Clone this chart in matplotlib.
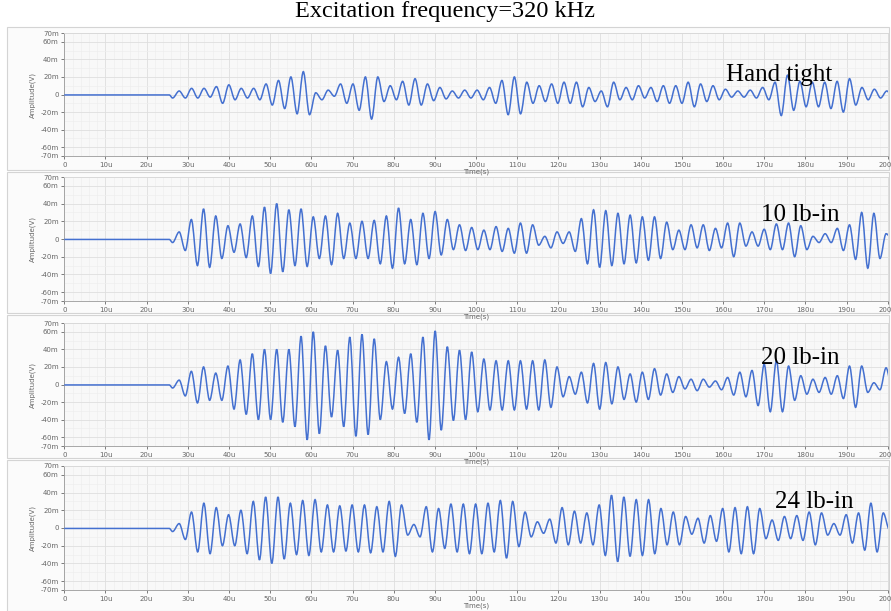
import matplotlib.pyplot as plt
from matplotlib.patches import Rectangle, PathPatch
from matplotlib.path import Path
from matplotlib.ticker import MultipleLocator

# peak / trough amplitudes (mV) read cycle by cycle from each trace
labels = ["Hand tight", "10 lb-in", "20 lb-in", "24 lb-in"]
start_us = [27.9, 27.9, 27.9, 27.9]
period_us = [3.015, 2.96, 2.96, 3.0]

peaks_hand = [4, 7, 7, 9, 11, 7, 7, 12, 16, 20,
              26, 2, 5, 12, 12, 20, 20, 10, 15, 18, 12, 8, 4, 5, 5, 8, 16, 20, 14, 10, 12, 14, 14, 8, 4,
              14, 8, 10, 8, 10, 10, 14, 12, 10, 6, 4, 5, 8, 14, 22, 15, 14, 14, 15, 18, 8, 6, 4]
troughs_hand = [-4, -4, -3, -10, -6, -4, -6, -12, -16, -22,
                -23, -6, -2, -10, -18, -28, -8, -6, -12, -12, -7, -5, -4, -4, -6, -10, -23, -22, -10, -8,
                -10, -10, -14, -8, -14,
                -6, -6, -4, -8, -10, -10, -14, -8, -6, -3, -3, -4, -6, -24, -18, -14, -14, -16, -20, -12,
                -6, -4, -3]

peaks_10 = [8, 22, 34, 26, 15, 17, 26, 36, 40, 33,
            34, 25, 26, 29, 18, 20, 21, 26, 35, 22,
            29, 31, 22, 16, 13, 10, 14, 12, 18, 16,
            3, 8, 8, 23, 33,
            32, 29, 27, 25, 25, 19, 10, 16, 16, 12,
            18, 18, 8, 11, 17, 18, 15, 3, 6, 12,
            16, 30, 29, 6]
troughs_10 = [-13, -30, -32, -22, -15, -21, -31, -39, -37, -30,
              -31, -22, -29, -22, -22, -22, -28, -33, -28, -29,
              -22, -18, -12, -13, -12, -12, -14, -16, -16, -7,
              -10, -5, -14, -28,
              -32, -30, -28, -27, -24, -22, -12, -12, -10, -13,
              -10, -20, -8, -8, -12, -12, -20, -12, -4, -4,
              -13, -23, -33, -22, 0]

peaks_20 = [5, 15, 20, 13, 21, 28, 35, 40, 40, 40,
            55, 60, 44, 39, 54, 57, 52, 26, 31, 35,
            54, 61, 43, 39, 37, 29, 27, 27, 27, 27,
            28, 20, 9, 14, 24,
            25, 20, 12, 14, 18, 12, 9, 6, 6, 4,
            8, 14, 16, 23, 27, 21, 10, 6, 8, 10,
            21, 21, 2, 19]
troughs_20 = [-13, -21, -18, -18, -28, -34, -40, -40, -43, -48,
              -63, -56, -37, -48, -59, -57, -40, -28, -33, -43,
              -63, -52, -41, -40, -31, -29, -29, -29, -28, -29,
              -26, -14, -11, -21, -28,
              -22, -17, -20, -17, -12, -9, -5, -7, -3, -6,
              -12, -14, -24, -31, -31, -18, -11, -9, -11, -16,
              -26, -9, -6, -5]

peaks_24 = [5, 18, 28, 23, 15, 20, 30, 35, 35, 28,
            31, 32, 26, 25, 26, 26, 24, 30, 26, 4,
            24, 22, 27, 27, 27, 28, 31, 30, 18, 7,
            10, 23, 19, 17, 26, 37,
            35, 32, 32, 22, 18, 13, 11, 14, 22, 23,
            24, 22, 9, 13, 14, 18, 17, 5, 15, 17,
            28, 17]
troughs_24 = [-13, -27, -29, -20, -20, -29, -36, -40, -35, -30,
              -31, -27, -27, -26, -27, -28, -27, -32, -8, -10,
              -27, -23, -27, -29, -29, -27, -34, -21, -10, -6,
              -17, -19, -17, -19, -31,
              -38, -32, -31, -29, -19, -19, -7, -17, -15, -27,
              -29, -29, -12, -14, -12, -14, -19, -8, -8, -17,
              -25, -27, -2]

baseline_t = [0, 25.5]
baseline_v = [-0.5, -0.5]
dip_v = -4

all_peaks = [peaks_hand, peaks_10, peaks_20, peaks_24]
all_troughs = [troughs_hand, troughs_10, troughs_20, troughs_24]

ytick_vals = [70, 60, 40, 20, 0, -20, -40, -60, -70]
ytick_labels = ["70m", "60m", "40m", "20m", "0", "-20m", "-40m", "-60m", "-70m"]
xtick_vals = list(range(0, 201, 10))
xtick_labels = ["0"] + [f"{v}u" for v in xtick_vals[1:]]


def smooth_path(t, v):
    # cubic segments with flat tangents at every extremum (scope-like trace)
    verts = [(t[0], v[0])]
    codes = [Path.MOVETO]
    for j in range(1, len(t)):
        dt = t[j] - t[j - 1]
        verts += [(t[j - 1] + dt / 3, v[j - 1]), (t[j] - dt / 3, v[j]), (t[j], v[j])]
        codes += [Path.CURVE4] * 3
    return Path(verts, codes)


W, H = 891, 611
fig = plt.figure(figsize=(W / 100, H / 100), dpi=100)
fig.patch.set_facecolor("white")

plot_rows = [(33, 156), (177, 301), (323, 446), (466, 590)]
frame_rows = [(27, 170), (172, 313), (315, 458), (460, 611)]
left, right = 64.3, 887.8

serif = ["Liberation Serif", "DejaVu Serif"]
label_pos = [(779, 75), (800, 215), (800, 358), (814, 502)]

for i in range(4):
    ft, fb = frame_rows[i]
    fig.patches.append(Rectangle((7 / W, 1 - fb / H), (889 - 7) / W, (fb - ft) / H,
                                 transform=fig.transFigure, facecolor="#fbfbfb",
                                 edgecolor="#d4d4d4", linewidth=0.8, zorder=-5))
    top, bottom = plot_rows[i]
    ax = fig.add_axes([left / W, 1 - bottom / H, (right - left) / W, (bottom - top) / H])
    ax.set_facecolor("#f8f8f8")

    t = list(baseline_t) + [start_us[i] - 1.6]
    v = list(baseline_v) + [dip_v]
    for k, (p, q) in enumerate(zip(all_peaks[i], all_troughs[i])):
        t.append(start_us[i] + k * period_us[i])
        v.append(p)
        t.append(start_us[i] + (k + 0.5) * period_us[i])
        v.append(q)
    ax.add_patch(PathPatch(smooth_path(t, v), facecolor="none", edgecolor="#4470d0",
                           linewidth=1.1, zorder=3))

    ax.set_xlim(0, 200)
    ax.set_ylim(-70, 70)
    ax.set_yticks(ytick_vals)
    ax.set_yticklabels(ytick_labels)
    ax.set_xticks(xtick_vals)
    ax.set_xticklabels(xtick_labels)
    ax.xaxis.set_minor_locator(MultipleLocator(2))
    ax.yaxis.set_minor_locator(MultipleLocator(10))
    ax.grid(which="major", color="#dedede", linewidth=0.6)
    ax.grid(which="minor", color="#eeeeee", linewidth=0.5)
    ax.set_axisbelow(True)
    ax.tick_params(which="major", labelsize=5, colors="#666666", length=2.5, width=0.6, pad=1.5)
    ax.tick_params(which="minor", length=0)
    for side in ["top", "right"]:
        ax.spines[side].set_color("#d8d8d8")
        ax.spines[side].set_linewidth(0.6)
    for side in ["left", "bottom"]:
        ax.spines[side].set_color("#9a9a9a")
        ax.spines[side].set_linewidth(0.6)
    ax.set_ylabel("Amplitude(V)", fontsize=5, color="#666666", labelpad=3)
    ax.set_xlabel("Time(s)", fontsize=5, color="#666666", labelpad=1)

    lx, ly = label_pos[i]
    fig.text(lx / W, 1 - ly / H, labels[i], family=serif, fontsize=18,
             ha="center", va="center", color="black", zorder=10)

fig.text(445 / W, 1 - 12 / H, "Excitation frequency=320 kHz", family=serif,
         fontsize=17.5, ha="center", va="center", color="black")

fig.savefig("out.png", dpi=100)
